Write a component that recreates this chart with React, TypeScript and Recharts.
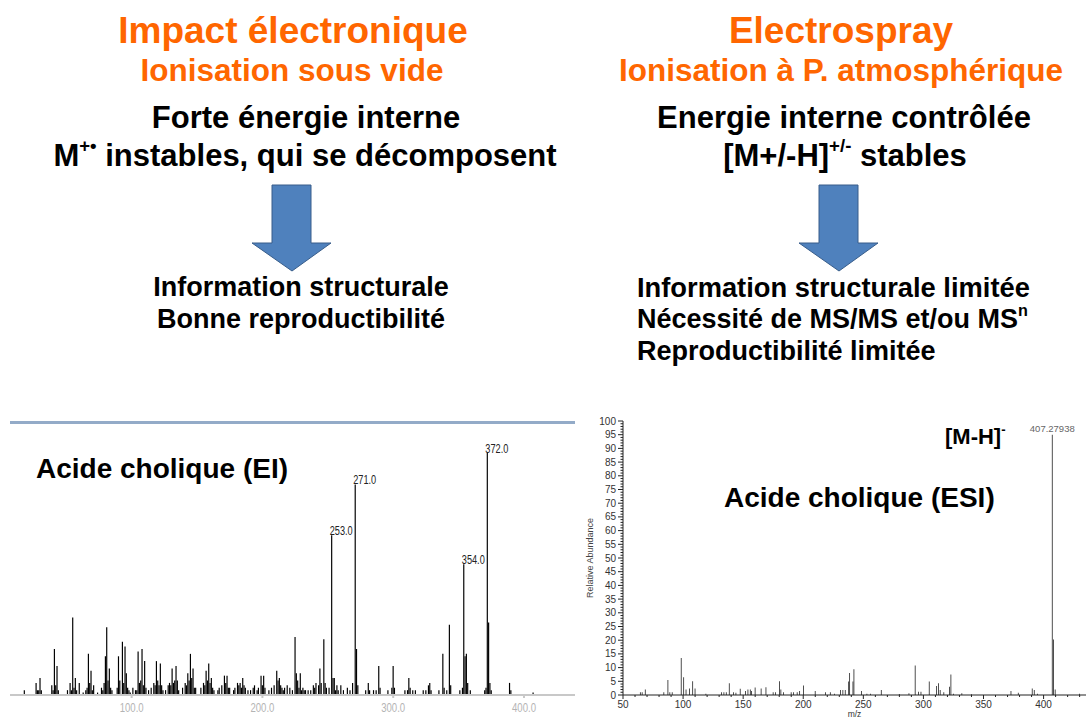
import React from 'react';
import { BarChart, Bar, XAxis, YAxis, LabelList } from 'recharts';

// EI spectrum (acide cholique), relative abundance in %
const eiMz = [
  18, 27, 28, 29, 30, 31, 39, 40, 41, 42, 43, 44, 51, 53, 54, 55, 56, 57, 58, 60,
  63, 65, 66, 67, 68, 69, 70, 71, 74, 77, 78, 79, 80, 81, 82, 83, 84, 85,
  89, 90, 91, 93, 94, 95, 96, 97, 98, 99, 101, 103, 104, 105, 106, 107, 108, 109, 110, 111,
  113, 115, 117, 118, 119, 120, 121, 122, 123, 124, 126, 128, 129, 130, 131, 132, 133, 134, 135, 136,
  139, 141, 142, 143, 144, 145, 146, 147, 148, 149, 153, 155, 156, 157, 158, 159, 160, 161, 162, 163,
  166, 167, 169, 171, 172, 173, 174, 175, 178, 179, 181, 182, 183, 184, 185, 186, 187, 189,
  191, 193, 194, 196, 197, 199, 200, 201, 202, 205, 207, 209, 211, 212, 213, 214, 215, 216,
  217, 219, 221, 223, 225, 226, 227, 228, 229, 230, 231, 232, 233, 235,
  237, 239, 240, 241, 243, 244, 245, 247, 248, 249, 251, 253, 254, 255, 256, 257, 258, 260,
  262, 265, 267, 269, 271, 272, 273, 279, 281, 282, 285, 287, 289, 290, 296, 299, 300, 301,
  309, 311, 312, 313, 315, 317, 323, 325, 327, 328, 329, 335, 338, 339, 341, 343, 344,
  351, 353, 354, 355, 356, 357, 359, 370, 371, 372, 373, 374, 375, 389, 390, 407,
];
const eiAbundance = [
  2, 5, 2, 2, 7, 2, 4, 2, 19, 4, 12, 2, 2, 5, 2, 32, 3, 7, 2, 5,
  1, 2, 3, 17, 5, 10, 2, 4, 1, 3, 2, 5, 16, 28, 6, 11, 3, 2,
  3, 16, 6, 22, 5, 20, 9, 3, 2, 1, 3, 2, 2, 18, 5, 6, 19, 4, 14, 3,
  2, 3, 5, 4, 14, 6, 4, 13, 4, 2, 2, 4, 5, 4, 11, 5, 6, 12, 6, 2,
  3, 5, 4, 9, 6, 17, 7, 11, 3, 3, 3, 5, 4, 10, 6, 13, 5, 7, 3, 2,
  2, 3, 4, 8, 5, 8, 3, 3, 2, 3, 5, 4, 5, 3, 7, 4, 3, 2,
  2, 3, 4, 2, 3, 8, 4, 8, 3, 2, 3, 4, 10, 6, 7, 4, 3, 2,
  3, 4, 3, 2, 24, 9, 6, 3, 9, 2, 3, 2, 2, 2,
  2, 4, 3, 5, 4, 11, 5, 23, 5, 3, 3, 66, 7, 7, 2, 4, 2, 4,
  2, 3, 2, 5, 87, 19, 4, 2, 5, 2, 2, 2, 12, 3, 2, 3, 12, 3,
  2, 2, 7, 3, 2, 2, 2, 2, 4, 5, 2, 2, 17, 3, 2, 29, 4,
  2, 3, 54, 16, 17, 5, 2, 2, 3, 100, 30, 5, 2, 5, 2, 1,
];
const eiLabelled = [253, 271, 354, 372];
const eiTicks = [100, 200, 300, 400];

// ESI spectrum, relative abundance in %
const esiMz = [
  64.5, 66, 68.6, 84, 87.4, 89, 91, 98.5, 100.5, 102.5, 105.4, 108, 110, 119,
  132, 134, 136, 138.5, 142, 144, 147.6, 152, 154, 156, 157, 160, 165, 169,
  175, 177, 180.3, 181.4, 183.6, 190, 192, 195, 197, 200.3, 210, 218.6, 222.6, 226,
  231, 233, 235, 237.8, 238.6, 241.4, 242.2, 248.5, 253, 256, 265, 280, 288,
  293.2, 296, 298, 304.9, 311, 312.6, 314, 317, 321.8, 322.9, 325, 332, 340,
  372.9, 379, 390.6, 392.3, 395, 407.28, 408.3, 409.7, 430,
];
const esiAbundance = [
  1, 1, 2, 1, 5.5, 1, 1, 13.5, 6.5, 2, 2.4, 5, 2.4, 0.5,
  1, 1, 1, 4.3, 1, 0.8, 2.3, 1.5, 2, 2, 1.5, 2.7, 2.4, 2.8,
  1, 1, 5, 2, 1, 1, 1, 1, 1.5, 3.5, 1.5, 1, 1, 0.5,
  1.8, 1.8, 1.8, 4.9, 8, 4.9, 9.4, 1.5, 0.5, 0.5, 1.8, 0.4, 0.6,
  10.8, 1.2, 1.2, 4.9, 3.3, 4.3, 1.8, 1, 3, 7.5, 0.5, 0.6, 0.3,
  1.5, 0.8, 2.4, 1.8, 0.5, 95, 20.3, 2, 0.5,
];
const esiBasePeak = 407.28;
const esiBasePeakLabel = '407.27938';
const esiYTicks = [0, 5, 10, 15, 20, 25, 30, 35, 40, 45, 50, 55, 60, 65, 70, 75, 80, 85, 90, 95, 100];
const esiXTicks = [50, 100, 150, 200, 250, 300, 350, 400];

const eiData = eiMz.map((mz, i) => ({
  mz,
  ab: eiAbundance[i],
  label: eiLabelled.includes(mz) ? mz.toFixed(1) : undefined,
}));
const esiData = esiMz.map((mz, i) => ({
  mz,
  ab: esiAbundance[i],
  label: mz === esiBasePeak ? esiBasePeakLabel : undefined,
}));

// minor ticks between the labelled ones
const esiYMinor: number[] = [];
esiYTicks.forEach((t) => {
  for (let k = 0; k < 5 && t + k <= 100; k++) esiYMinor.push(t + k);
});
const esiXMinor: number[] = [];
for (let t = esiXTicks[0]; t <= 430; t += 10) esiXMinor.push(t);

const SANS = '"Liberation Sans", Arial, sans-serif';
const ORANGE = '#ff6600';

const Line = ({ cx, x, base, size, color = '#000', children }: any) => {
  const top = base - 0.8465 * size;
  const style: React.CSSProperties = {
    position: 'absolute',
    top,
    fontSize: size,
    lineHeight: `${size}px`,
    fontWeight: 'bold',
    color,
    whiteSpace: 'nowrap',
  };
  if (cx !== undefined) {
    style.left = cx - 400;
    style.width = 800;
    style.textAlign = 'center';
  } else {
    style.left = x;
  }
  return <div style={style}>{children}</div>;
};

const Sup = ({ children }: any) => (
  <span style={{ fontSize: '0.6em', position: 'relative', top: '-0.75em' }}>{children}</span>
);

const Arrow = ({ cx }: { cx: number }) => (
  <svg style={{ position: 'absolute', left: cx - 42, top: 182 }} width={84} height={92}>
    <polygon
      points="22,3 61,3 61,61 81,61 42,89 2,61 22,61"
      fill="#4f81bd"
      stroke="#385d8a"
      strokeWidth={1}
    />
  </svg>
);

// narrow instrument-style labels, squeezed to the width seen in the scan
const renderEiLabel = (props: any) => {
  const { x, y, width, value } = props;
  if (!value) return null;
  return (
    <text
      x={x + width / 2 - 2}
      y={y}
      fontSize={12}
      fontFamily={SANS}
      fill="#222"
      textLength={23}
      lengthAdjust="spacingAndGlyphs"
    >
      {value}
    </text>
  );
};

const EiXTick = (props: any) => {
  const { x, y, payload } = props;
  return (
    <text
      x={x - 12}
      y={y + 12}
      fontSize={12}
      fontFamily={SANS}
      fill="#b4b4b4"
      textLength={24}
      lengthAdjust="spacingAndGlyphs"
    >
      {payload.value.toFixed(1)}
    </text>
  );
};

const renderEsiLabel = (props: any) => {
  const { x, y, width, value } = props;
  if (!value) return null;
  return (
    <text x={x + width / 2} y={y - 3} fontSize={9.5} fontFamily={SANS} fill="#666" textAnchor="middle">
      {value}
    </text>
  );
};

const EsiYTick = (props: any) => {
  const { x, y, payload } = props;
  const major = payload.value % 5 === 0;
  return (
    <g>
      <line x1={x - (major ? 5 : 2.5)} x2={x} y1={y} y2={y} stroke="#222" />
      {major && (
        <text x={x - 7} y={y} dy="0.35em" textAnchor="end" fontSize={10} fontFamily={SANS} fill="#333">
          {payload.value}
        </text>
      )}
    </g>
  );
};

const EsiXTick = (props: any) => {
  const { x, y, payload } = props;
  const major = payload.value % 50 === 0;
  return (
    <g>
      <line x1={x} x2={x} y1={y} y2={y + (major ? 4 : 2)} stroke="#222" />
      {major && (
        <text x={x} y={y + 13} textAnchor="middle" fontSize={10} fontFamily={SANS} fill="#333">
          {payload.value}
        </text>
      )}
    </g>
  );
};

export default function App() {
  return (
    <div
      style={{
        position: 'absolute',
        left: 0,
        top: 0,
        width: 1086,
        height: 717,
        overflow: 'hidden',
        background: '#fff',
        fontFamily: SANS,
      }}
    >
      <Line cx={293} base={43} size={37} color={ORANGE}>Impact électronique</Line>
      <Line cx={292} base={82} size={31.5} color={ORANGE}>Ionisation sous vide</Line>
      <Line cx={306} base={128} size={31}>Forte énergie interne</Line>
      <Line cx={305} base={166} size={31}>
        M<Sup>+•</Sup> instables, qui se décomposent
      </Line>
      <Arrow cx={292} />
      <Line cx={301} base={297} size={27}>Information structurale</Line>
      <Line cx={301} base={329} size={27}>Bonne reproductibilité</Line>

      <Line cx={841} base={43} size={37} color={ORANGE}>Electrospray</Line>
      <Line cx={841} base={82} size={31.5} color={ORANGE}>Ionisation à P. atmosphérique</Line>
      <Line cx={844} base={128} size={31}>Energie interne contrôlée</Line>
      <Line cx={845} base={166} size={31}>
        [M+/-H]<Sup>+/-</Sup> stables
      </Line>
      <Arrow cx={839} />
      <Line x={637} base={297} size={27.3}>Information structurale limitée</Line>
      <Line x={637} base={329} size={27}>
        Nécessité de MS/MS et/ou MS<Sup>n</Sup>
      </Line>
      <Line x={637} base={361} size={27}>Reproductibilité limitée</Line>

      {/* EI spectrum */}
      <div style={{ position: 'absolute', left: 10, top: 421, width: 565, height: 3, background: '#93abc8' }} />
      <div style={{ position: 'absolute', left: 10, top: 423 }}>
        <BarChart width={565} height={294} data={eiData} margin={{ top: 30, right: 0, bottom: 0, left: 0 }}>
          <XAxis
            type="number"
            dataKey="mz"
            domain={[7, 439]}
            ticks={eiTicks}
            interval={0}
            allowDataOverflow
            height={22}
            stroke="#c8c8c8"
            strokeWidth={2}
            tickSize={3}
            tick={<EiXTick />}
          />
          <YAxis hide domain={[0, 100]} />
          <Bar dataKey="ab" fill="#000" barSize={2} isAnimationActive={false}>
            <LabelList dataKey="label" content={renderEiLabel} />
          </Bar>
        </BarChart>
      </div>
      <Line x={36} base={479} size={28}>Acide cholique (EI)</Line>

      {/* ESI spectrum */}
      <div style={{ position: 'absolute', left: 575, top: 410 }}>
        <BarChart width={511} height={307} data={esiData} margin={{ top: 11, right: 0, bottom: 0, left: 0 }}>
          <XAxis
            type="number"
            dataKey="mz"
            domain={[50, 435.3]}
            ticks={esiXMinor}
            interval={0}
            allowDataOverflow
            height={22}
            stroke="#222"
            tickLine={false}
            tickSize={0}
            tickMargin={0}
            tick={<EsiXTick />}
            label={{ value: 'm/z', position: 'insideBottom', offset: 0.5, fill: '#333', fontSize: 8.5 }}
          />
          <YAxis
            type="number"
            domain={[0, 100]}
            ticks={esiYMinor}
            interval={0}
            width={48}
            stroke="#222"
            tickLine={false}
            tickSize={0}
            tickMargin={0}
            tick={<EsiYTick />}
            label={{
              value: 'Relative Abundance',
              angle: -90,
              position: 'insideLeft',
              offset: 15,
              style: { textAnchor: 'middle' },
              fill: '#444',
              fontSize: 9,
              fontFamily: SANS,
            }}
          />
          <Bar dataKey="ab" fill="#333" barSize={1} isAnimationActive={false}>
            <LabelList dataKey="label" content={renderEsiLabel} />
          </Bar>
        </BarChart>
      </div>
      <Line x={724} base={508} size={28}>Acide cholique (ESI)</Line>
      <Line x={945} base={445} size={22}>
        [M-H]<Sup>-</Sup>
      </Line>
    </div>
  );
}
